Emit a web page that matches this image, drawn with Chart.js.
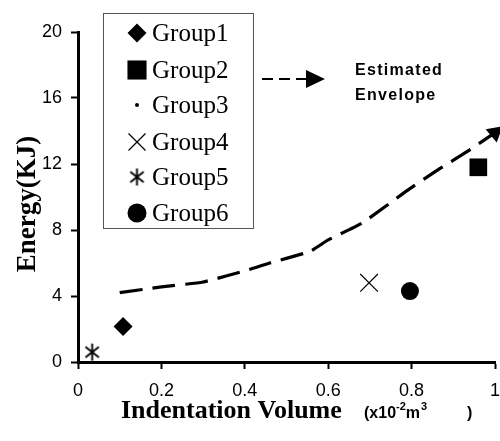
<!DOCTYPE html>
<html>
<head>
<meta charset="utf-8">
<script src="https://cdn.jsdelivr.net/npm/chart.js@4.4.1/dist/chart.umd.min.js"></script>
<style>
    html, body { margin: 0; padding: 0; background: #fff; }
    #wrap { width: 500px; height: 441px; }
</style>
</head>
<body>
<div id="wrap"><canvas id="energyChart" width="500" height="441"></canvas></div>
<script>
// Data
const groupNames = ['Group1', 'Group2', 'Group3', 'Group4', 'Group5', 'Group6'];
const groupX = [[0.108], [0.96], [], [0.698], [0.034], [0.796]];
const groupY = [[2.15], [11.8], [], [4.8], [0.6], [4.3]];

const envelopeX = [0.1, 0.2, 0.3, 0.41, 0.46, 0.556, 0.6, 0.68, 0.79, 0.86, 0.93, 1.0];
const envelopeY = [4.2, 4.55, 4.85, 5.6, 6.0, 6.7, 7.4, 8.4, 10.4, 11.6, 12.7, 13.9];

const xTickLabels = ['0', '0.2', '0.4', '0.6', '0.8', '1'];
const yTickLabels = ['0', '4', '8', '12', '16', '20'];

// six-armed asterisk marker for Group5
function makeAsterisk(size) {
    const c = document.createElement('canvas');
    c.width = size;
    c.height = size;
    const g = c.getContext('2d');
    const m = size / 2;
    const r = size / 2 - 1;
    g.strokeStyle = '#000';
    g.lineWidth = 1.9;
    g.beginPath();
    g.moveTo(m, m - r);
    g.lineTo(m, m + r);
    const a = 38 * Math.PI / 180;
    g.moveTo(m - r * Math.cos(a), m - r * Math.sin(a));
    g.lineTo(m + r * Math.cos(a), m + r * Math.sin(a));
    g.moveTo(m + r * Math.cos(a), m - r * Math.sin(a));
    g.lineTo(m - r * Math.cos(a), m + r * Math.sin(a));
    g.stroke();
    return c;
}

const markerStyles = [
    { pointStyle: 'rectRot', radius: 9.5, legendRadius: 9.5, borderWidth: 0 },
    { pointStyle: 'rect', radius: 12.5, legendRadius: 13.5, borderWidth: 0 },
    { pointStyle: 'circle', radius: 2, legendRadius: 2, borderWidth: 0 },
    { pointStyle: 'crossRot', radius: 12.5, legendRadius: 12, borderWidth: 1.2 },
    { pointStyle: makeAsterisk(19), radius: 9, legendRadius: 9, borderWidth: 0 },
    { pointStyle: 'circle', radius: 9, legendRadius: 9.5, borderWidth: 0 }
];

const datasets = groupNames.map(function(name, i) {
    return {
        label: name,
        data: groupX[i].map((x, j) => ({ x: x, y: groupY[i][j] })),
        pointStyle: markerStyles[i].pointStyle,
        pointRadius: markerStyles[i].radius,
        pointBackgroundColor: '#000',
        pointBorderColor: '#000',
        pointBorderWidth: markerStyles[i].borderWidth,
        showLine: false
    };
});

// dashed envelope, ending in a solid arrowhead
const lastIdx = envelopeX.length - 1;
datasets.push({
    label: 'Estimated Envelope',
    type: 'line',
    data: envelopeX.map((x, j) => ({ x: x, y: envelopeY[j] })),
    borderColor: '#000',
    borderWidth: 3.2,
    borderDash: [23, 10],
    tension: 0.15,
    fill: false,
    clip: false,
    pointStyle: 'triangle',
    pointRotation: 170,
    pointRadius: ctx => ctx.dataIndex === lastIdx ? 10 : 0,
    pointBackgroundColor: '#000',
    pointBorderWidth: 0
});

// legend box, annotation and axis titles
const decorations = {
    id: 'decorations',
    afterDraw(chart) {
        const ctx = chart.ctx;
        ctx.save();

        // legend frame
        ctx.strokeStyle = '#555';
        ctx.lineWidth = 1;
        ctx.strokeRect(103.5, 13.5, 150, 215);

        const rows = [33, 70, 105, 142, 177, 213];
        groupNames.forEach(function(name, i) {
            const st = markerStyles[i];
            ctx.fillStyle = '#000';
            ctx.strokeStyle = '#000';
            ctx.lineWidth = st.borderWidth || 1;
            Chart.helpers.drawPoint(ctx, {
                pointStyle: st.pointStyle,
                radius: st.legendRadius,
                rotation: 0,
                borderWidth: st.borderWidth
            }, 137, rows[i]);
            ctx.fillStyle = '#000';
            ctx.font = '25px "Liberation Serif", "Times New Roman", serif';
            ctx.textAlign = 'left';
            ctx.textBaseline = 'middle';
            ctx.fillText(name, 152, rows[i] + 1);
        });

        // dashed arrow pointing to envelope text
        ctx.strokeStyle = '#000';
        ctx.lineWidth = 2.2;
        ctx.setLineDash([11, 6]);
        ctx.beginPath();
        ctx.moveTo(262, 79);
        ctx.lineTo(308, 79);
        ctx.stroke();
        ctx.setLineDash([]);
        ctx.beginPath();
        ctx.moveTo(306, 70);
        ctx.lineTo(325, 79);
        ctx.lineTo(306, 88);
        ctx.closePath();
        ctx.fill();

        ctx.font = 'bold 16px "Liberation Sans", Arial, sans-serif';
        ctx.letterSpacing = '1.3px';
        ctx.textAlign = 'left';
        ctx.textBaseline = 'alphabetic';
        ctx.fillText('Estimated', 355, 75);
        ctx.fillText('Envelope', 355, 100);
        ctx.letterSpacing = '0px';

        // y axis title
        ctx.save();
        ctx.translate(35, 204);
        ctx.rotate(-Math.PI / 2);
        ctx.font = 'bold 27px "Liberation Serif", "Times New Roman", serif';
        ctx.textAlign = 'center';
        ctx.textBaseline = 'alphabetic';
        ctx.fillText('Energy(KJ)', 0, 0);
        ctx.restore();

        // x axis title
        ctx.font = 'bold 26px "Liberation Serif", "Times New Roman", serif';
        ctx.textAlign = 'left';
        ctx.fillText('Indentation Volume', 121, 418);

        ctx.font = 'bold 16px "Liberation Sans", Arial, sans-serif';
        let ux = 364;
        ctx.fillText('(x10', ux, 418);
        ux += ctx.measureText('(x10').width;
        ctx.font = 'bold 11px "Liberation Sans", Arial, sans-serif';
        ctx.fillText('-2', ux, 410);
        ux += ctx.measureText('-2').width;
        ctx.font = 'bold 16px "Liberation Sans", Arial, sans-serif';
        ctx.fillText('m', ux, 418);
        ux += ctx.measureText('m').width + 1;
        ctx.font = 'bold 11px "Liberation Sans", Arial, sans-serif';
        ctx.fillText('3', ux, 410);
        ctx.font = 'bold 16px "Liberation Sans", Arial, sans-serif';
        ctx.fillText(')', 467, 418);

        ctx.restore();
    }
};

new Chart(document.getElementById('energyChart'), {
    type: 'scatter',
    data: { datasets: datasets },
    options: {
        responsive: false,
        animation: false,
        events: [],
        layout: { autoPadding: false, padding: { top: 32, right: 5, left: 0, bottom: 0 } },
        plugins: {
            legend: { display: false },
            tooltip: { enabled: false }
        },
        scales: {
            x: {
                type: 'linear',
                min: 0,
                max: 1,
                afterFit: function(scale) {
                    scale.height = 79;
                    scale.paddingRight = 0;
                    scale.paddingLeft = 0;
                },
                afterBuildTicks: function(scale) {
                    scale.ticks = xTickLabels.map(t => ({ value: parseFloat(t) }));
                },
                ticks: {
                    color: '#000',
                    padding: 11,
                    font: { family: '"Liberation Sans", Arial, sans-serif', size: 18 },
                    callback: (v, i) => xTickLabels[i]
                },
                grid: { drawOnChartArea: false, drawTicks: true, tickLength: 7, tickWidth: 2, color: '#000' },
                border: { color: '#000', width: 3 }
            },
            y: {
                type: 'linear',
                min: 0,
                max: 20,
                afterFit: function(scale) {
                    scale.width = 78;
                    scale.paddingTop = 0;
                    scale.paddingBottom = 0;
                },
                afterBuildTicks: function(scale) {
                    scale.ticks = yTickLabels.map(t => ({ value: parseFloat(t) }));
                },
                ticks: {
                    color: '#000',
                    padding: 9,
                    font: { family: '"Liberation Sans", Arial, sans-serif', size: 18 },
                    callback: (v, i) => yTickLabels[i]
                },
                grid: { drawOnChartArea: false, drawTicks: true, tickLength: 7, tickWidth: 2, color: '#000' },
                border: { color: '#000', width: 3 }
            }
        }
    },
    plugins: [decorations]
});
</script>
</body>
</html>
